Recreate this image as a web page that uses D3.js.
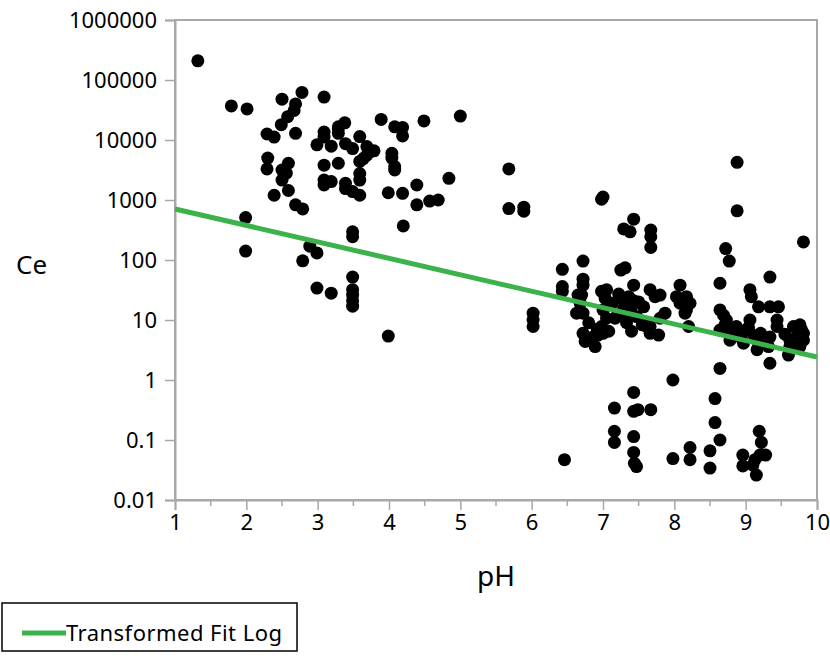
<!DOCTYPE html>
<html>
<head>
<meta charset="utf-8">
<script src="https://cdn.jsdelivr.net/npm/d3@7"></script>
<style>
  body { margin: 0; background: #fff; }
  text { font-family: "Noto Sans", "Open Sans", sans-serif; fill: #000; }
</style>
</head>
<body>
<div id="chart"></div>
<script>
// pH / Ce readings
const phValues = [
  1.32, 1.79, 2.01, 2.50, 2.78, 3.09, 2.69, 2.67, 2.58, 2.49,
  2.29, 2.39, 2.69, 3.09, 3.09, 3.29, 2.99, 3.19, 2.30, 2.29,
  2.59, 2.50, 2.56, 2.50, 3.09, 3.29, 3.09, 3.09, 3.19, 2.39,
  2.59, 2.69, 2.79, 1.99, 1.99, 2.89, 2.99, 2.79, 2.99, 3.19,
  3.29, 3.38, 3.29, 3.39, 3.49, 3.59, 3.69, 3.79, 3.59, 3.69,
  3.64, 3.39, 3.39, 3.49, 3.59, 3.59, 3.59, 3.89, 4.08, 4.19,
  4.19, 4.04, 4.04, 4.08, 4.08, 3.99, 4.19, 4.39, 4.39, 4.49,
  5.00, 4.57, 4.69, 4.84, 4.20, 3.49, 3.49, 3.49, 3.49, 3.49,
  3.49, 3.49, 3.99, 3.73,
  5.68, 5.68, 5.89, 5.89, 7.00, 6.98, 7.43, 7.29, 7.38, 7.67,
  7.67, 7.67, 8.88, 8.88, 8.72, 8.77, 9.81, 6.43, 6.72, 7.31,
  7.25, 6.43, 6.43, 6.72, 6.72, 6.65, 6.68, 6.63, 6.72, 6.02,
  6.02, 6.02, 6.98, 7.05, 7.03, 7.00, 7.05, 6.98, 6.93, 6.72,
  6.75, 6.82, 6.89, 6.86, 7.00, 7.43, 7.36, 7.29, 7.43, 7.40,
  7.29, 7.36, 7.47, 7.40, 7.57, 7.66, 7.73, 7.80, 7.66, 7.78,
  7.80, 7.66, 8.08, 8.03, 8.08, 8.17, 8.22, 8.17, 8.15, 8.20,
  8.64, 8.64, 8.69, 8.73, 8.71, 9.06, 9.08, 9.18, 9.34, 9.46,
  9.34, 9.44, 9.44, 8.87, 8.92, 9.01, 9.06, 8.78, 8.97, 9.16,
  9.21, 9.16, 9.34, 9.32, 9.34, 9.67, 9.76, 9.81, 9.62, 9.71,
  9.81, 9.62, 9.76, 9.60, 7.13, 7.17, 7.55, 7.87, 8.64,
  6.46, 7.43, 7.16, 7.43, 7.49, 7.67, 7.16, 7.16, 7.43, 7.43,
  7.47, 7.44, 8.64, 7.98, 8.57, 8.57, 8.64, 8.22, 8.50, 7.98,
  8.22, 8.50, 9.19, 9.22, 9.28, 9.20, 8.96, 8.96, 9.13, 9.15,
  9.10,
  6.80, 6.92, 7.08, 7.20, 7.33, 7.50, 7.60, 8.94, 9.04, 9.12,
  9.26, 9.55, 9.70, 9.78, 8.80, 6.70, 7.22
];
const ceValues = [
  209000, 37000, 33000, 48000, 62000, 52000, 40000, 31000, 24500, 18000,
  12600, 11200, 12900, 13600, 11200, 15500, 8300, 7900, 5000, 3300,
  4100, 3160, 2800, 2150, 3800, 4100, 2150, 1780, 2030, 1200,
  1440, 830, 710, 510, 141, 170, 131, 97, 34, 28,
  16600, 19300, 12900, 8700, 7200, 11400, 7800, 6600, 4400, 5600,
  4900, 1900, 1550, 1380, 1200, 2760, 2150, 22000, 16600, 16200,
  11700, 6000, 5000, 3600, 3160, 1320, 1290, 1780, 830, 20800,
  25000, 960, 1000, 2300, 370, 295, 245, 52, 32, 26,
  21, 17, 5.4, 6300,
  3300, 720, 760, 650, 1120, 1030, 480, 330, 295, 316,
  245, 162, 4250, 660, 155, 96, 200, 70, 96, 74,
  68, 36, 30, 48, 38, 26, 19, 13, 13, 13,
  10, 7.8, 30, 32, 23, 14.7, 10.7, 7.8, 5.6, 6,
  4.4, 4.6, 3.6, 5.2, 6, 38, 24.5, 21, 21, 16.6,
  15.5, 11.4, 11.4, 6.5, 16.6, 32, 24.5, 26, 6, 5.6,
  10.7, 7.8, 38, 24.5, 19, 24.5, 19, 14.7, 13, 7.8,
  41, 14.7, 12, 10, 8.3, 32, 24.5, 16.6, 16.6, 16.6,
  52, 10, 7.8, 7.8, 6, 6.8, 10, 4.6, 4.1, 4.6,
  6, 3.2, 5.2, 3.6, 1.9, 7.8, 8.3, 6, 4.6, 4.6,
  4.6, 3.6, 3.6, 2.6, 19, 10.7, 8.3, 13, 6.8,
  0.047, 0.62, 0.34, 0.30, 0.32, 0.32, 0.14, 0.091, 0.114, 0.062,
  0.036, 0.041, 1.56, 1.0, 0.49, 0.195, 0.10, 0.075, 0.066, 0.049,
  0.047, 0.034, 0.14, 0.091, 0.056, 0.056, 0.056, 0.037, 0.047, 0.026,
  0.038,
  9, 7, 6.5, 12, 9, 20, 8, 5, 7.5, 5.5,
  4.2, 5.8, 5, 7, 5.8, 26, 27
];

// Transformed fit (log) - end points of the fitted line
const fitPH = [1, 10];
const fitCe = [708, 2.42];

const xTicks = [1, 2, 3, 4, 5, 6, 7, 8, 9, 10];
const xMinorTicks = [1.5, 2.5, 3.5, 4.5, 5.5, 6.5, 7.5, 8.5, 9.5];
const yTicks = [0.01, 0.1, 1, 10, 100, 1000, 10000, 100000, 1000000];
const yTickLabels = ["0.01", "0.1", "1", "10", "100", "1000", "10000", "100000", "1000000"];

const width = 830,
  height = 656,
  margin = { top: 20, bottom: 156, left: 175, right: 13 },
  radius = 6.5;

const fitColor = "#3bb34a";
const axisColor = "#a8a8a8";

const points = phValues.map((p, i) => ({ ph: p, ce: ceValues[i] }));

const xScale = d3.scaleLinear()
  .domain([1, 10])
  .range([margin.left, width - margin.right]);

const yScale = d3.scaleLog()
  .domain([0.01, 1000000])
  .range([height - margin.bottom, margin.top]);

const svg = d3.select("#chart")
  .append("svg")
  .attr("width", width)
  .attr("height", height);

// plot frame
svg.append("rect")
  .attr("x", margin.left)
  .attr("y", margin.top)
  .attr("width", width - margin.right - margin.left)
  .attr("height", height - margin.bottom - margin.top)
  .attr("fill", "none")
  .attr("stroke", axisColor)
  .attr("stroke-width", 2);

// axes
const xAxis = d3.axisBottom(xScale)
  .tickValues(xTicks)
  .tickSize(10)
  .tickPadding(4)
  .tickFormat(d3.format("d"));

const xAxisGroup = svg.append("g")
  .attr("class", "xAxis")
  .attr("transform", `translate(0, ${height - margin.bottom})`)
  .call(xAxis);

xAxisGroup.selectAll("line")
  .attr("stroke", axisColor)
  .attr("stroke-width", 1.5);
xAxisGroup.select(".domain")
  .attr("stroke", axisColor)
  .attr("stroke-width", 2);
xAxisGroup.selectAll("text")
  .attr("font-size", 22)
  .attr("fill", "#000");

xAxisGroup.selectAll(".minor")
  .data(xMinorTicks)
  .join("line")
  .attr("class", "minor")
  .attr("x1", d => xScale(d))
  .attr("x2", d => xScale(d))
  .attr("y1", 0)
  .attr("y2", 6)
  .attr("stroke", axisColor)
  .attr("stroke-width", 1.5);

const yAxis = d3.axisLeft(yScale)
  .tickValues(yTicks)
  .tickSize(10)
  .tickPadding(8)
  .tickFormat((d, i) => yTickLabels[i]);

const yAxisGroup = svg.append("g")
  .attr("class", "yAxis")
  .attr("transform", `translate(${margin.left}, 0)`)
  .call(yAxis);

yAxisGroup.selectAll("line")
  .attr("stroke", axisColor)
  .attr("stroke-width", 1.5);
yAxisGroup.select(".domain")
  .attr("stroke", axisColor)
  .attr("stroke-width", 2);
yAxisGroup.selectAll("text")
  .attr("font-size", 22)
  .attr("fill", "#000");

// axis titles
svg.append("text")
  .attr("x", 16)
  .attr("y", 274)
  .attr("font-size", 26)
  .text("Ce");

svg.append("text")
  .attr("x", (margin.left + width - margin.right) / 2)
  .attr("y", 586)
  .attr("text-anchor", "middle")
  .attr("font-size", 28)
  .text("pH");

// points
svg.append("g")
  .selectAll("circle")
  .data(points)
  .join("circle")
  .attr("cx", d => xScale(d.ph))
  .attr("cy", d => yScale(d.ce))
  .attr("r", radius)
  .attr("fill", "#000");

// fit line
const fitLine = d3.line()
  .x(d => xScale(d[0]))
  .y(d => yScale(d[1]));

svg.append("path")
  .datum(fitPH.map((p, i) => [p, fitCe[i]]))
  .attr("d", fitLine)
  .attr("fill", "none")
  .attr("stroke", fitColor)
  .attr("stroke-width", 5);

// legend
const legend = svg.append("g");
legend.append("rect")
  .attr("x", 2)
  .attr("y", 603)
  .attr("width", 295)
  .attr("height", 48)
  .attr("fill", "#fff")
  .attr("stroke", "#000")
  .attr("stroke-width", 1.5);
legend.append("line")
  .attr("x1", 22)
  .attr("x2", 66)
  .attr("y1", 633)
  .attr("y2", 633)
  .attr("stroke", fitColor)
  .attr("stroke-width", 5);
legend.append("text")
  .attr("x", 66)
  .attr("y", 641)
  .attr("font-size", 22)
  .attr("textLength", 216)
  .text("Transformed Fit Log");
</script>
</body>
</html>
